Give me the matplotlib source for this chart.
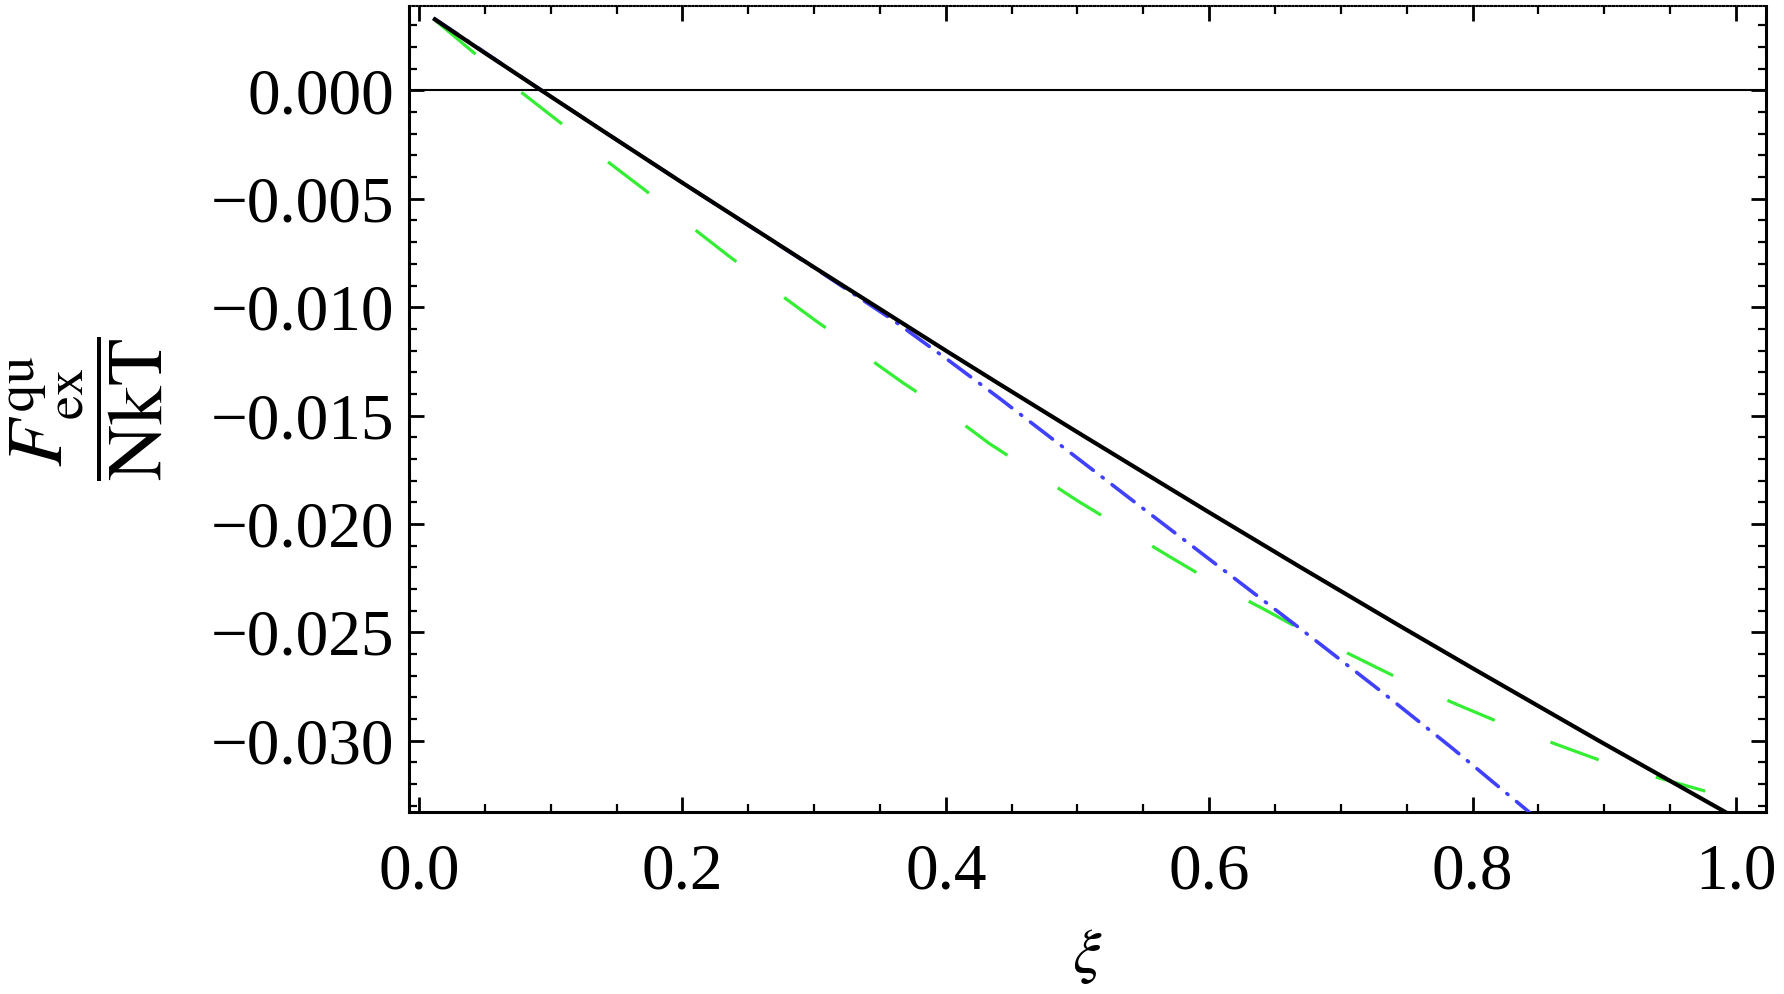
import numpy as np
import matplotlib
matplotlib.use('Agg')
import matplotlib.pyplot as plt
from matplotlib.ticker import MultipleLocator, FuncFormatter

plt.rcParams['font.family'] = ['Liberation Serif', 'DejaVu Serif']
plt.rcParams['mathtext.fontset'] = 'stix'
plt.rcParams['lines.scale_dashes'] = False

# values
xi_black = [0.012, 0.05, 0.091, 0.137, 0.20, 0.30, 0.402, 0.44, 0.50, 0.60, 0.668,
            0.744, 0.80, 0.896, 0.995]
f_black = [0.00328, 0.00173, 0.00008, -0.00176, -0.00426, -0.00816, -0.01208, -0.01352,
           -0.01577, -0.01947, -0.02195, -0.02468, -0.02666, -0.03001, -0.0334]

xi_blue = [0.012, 0.091, 0.137, 0.20, 0.30, 0.36, 0.402, 0.44, 0.55, 0.668, 0.73, 0.784, 0.845]
f_blue = [0.00330, 0.00008, -0.00176, -0.00426, -0.00818, -0.01060, -0.01245, -0.01417,
          -0.01930, -0.02478, -0.02770, -0.03032, -0.0334]

xi_green = [0.013, 0.044, 0.078, 0.108, 0.139, 0.171, 0.2035, 0.2346, 0.268, 0.300,
            0.334, 0.367, 0.4024, 0.433, 0.468, 0.501, 0.537, 0.571, 0.607, 0.642,
            0.678, 0.715, 0.752, 0.788, 0.828, 0.864, 0.9036, 0.943, 0.983, 1.0]
f_green = [0.00320, 0.00162, -0.0001, -0.00152, -0.00309, -0.00457, -0.00614, -0.00761,
           -0.00914, -0.01057, -0.01204, -0.01347, -0.0149, -0.01629, -0.01767, -0.01897,
           -0.0203, -0.02155, -0.02284, -0.02395, -0.02515, -0.02626, -0.02737, -0.02833,
           -0.02935, -0.03018, -0.03106, -0.03175, -0.03244, -0.03272]

fig = plt.figure(figsize=(17.84, 9.94), dpi=100)
ax = fig.add_axes([0.229, 0.183, 0.761, 0.811])

ax.axhline(0, color='black', lw=1.5, zorder=1)
ax.plot(xi_green, f_green, color='#33ee33', lw=2.3, dashes=(37, 43), zorder=2)
ax.plot(xi_blue, f_blue, color='#4040ff', lw=2.6, dashes=(20, 8, 1, 8),
        dash_capstyle='round', zorder=3)
ax.plot(xi_black, f_black, color='black', lw=3.0, zorder=4)

ax.set_xlim(-0.008, 1.023)
ax.set_ylim(-0.0333, 0.0039)

def fmt(d):
    return FuncFormatter(lambda v, p: ('%.*f' % (d, v)).replace('-', '\u2212')
                         if abs(v) > 1e-12 else '%.*f' % (d, 0.0))

ax.xaxis.set_major_locator(MultipleLocator(0.2))
ax.xaxis.set_minor_locator(MultipleLocator(0.05))
ax.yaxis.set_major_locator(MultipleLocator(0.005))
ax.yaxis.set_minor_locator(MultipleLocator(0.001))
ax.xaxis.set_major_formatter(fmt(1))
ax.yaxis.set_major_formatter(fmt(3))

ax.tick_params(which='both', direction='in', top=True, right=True, colors='black')
ax.tick_params(which='major', length=11, width=2, labelsize=47)
ax.tick_params(which='minor', length=6, width=1.6)
ax.tick_params(axis='x', which='major', pad=22)
ax.tick_params(axis='y', which='major', pad=10)

for s in ['left', 'bottom', 'right']:
    ax.spines[s].set_linewidth(2.2)
ax.spines['top'].set_linewidth(1.5)
ax.spines['top'].set_linestyle(':')

ax.set_xlabel(r'$\xi$', fontsize=46, labelpad=18)
ax.set_ylabel(r'$\dfrac{F_{\mathrm{ex}}^{\mathrm{qu}}}{\mathrm{NkT}}$', fontsize=56, labelpad=34)

plt.savefig('out.png', dpi=100)
